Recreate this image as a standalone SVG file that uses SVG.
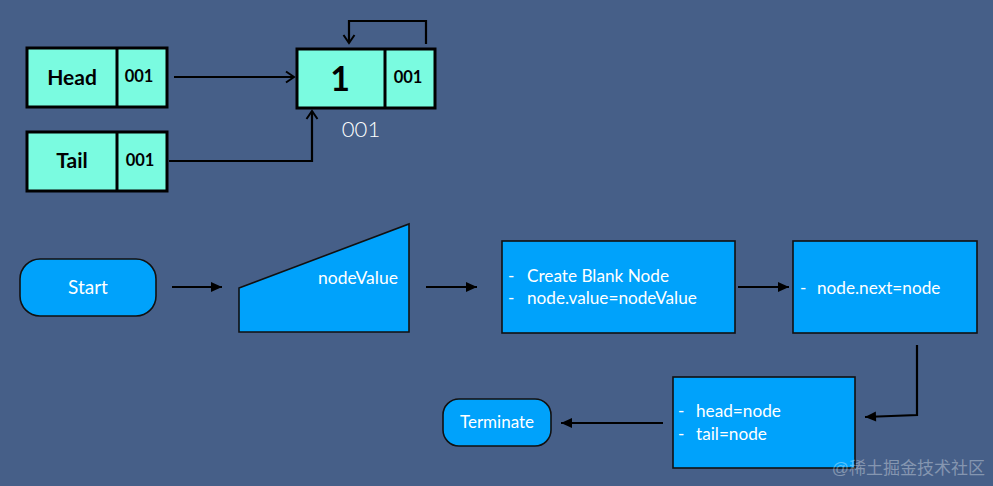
<svg xmlns="http://www.w3.org/2000/svg" width="993" height="486" viewBox="0 0 993 486">
<defs>
<style>
.bg{fill:#465f88}
.mem{fill:#7afbe0;stroke:#000;stroke-width:3}
.flow{fill:#00a2fb;stroke:#111;stroke-width:1.6}
.t{font-family:Lato,"Noto Sans",sans-serif;fill:#fff;font-size:17.2px}
.b{font-family:Lato,"Noto Sans",sans-serif;font-weight:bold;fill:#000}
.c{fill:none;stroke:#000;stroke-width:2.2}
</style>
<marker id="open" markerUnits="userSpaceOnUse" markerWidth="14" markerHeight="14" refX="11" refY="7" orient="auto">
<path d="M3,1.5 L11,7 L3,12.5" fill="none" stroke="#000" stroke-width="2"/>
</marker>
<marker id="fill" markerUnits="userSpaceOnUse" markerWidth="14" markerHeight="14" refX="12" refY="7" orient="auto">
<path d="M1,2 L12,7 L1,12 Z" fill="#000"/>
</marker>
</defs>
<rect class="bg" x="0" y="0" width="993" height="486"/>

<g id="head">
<rect class="mem" x="27" y="48" width="140" height="59"/>
<line x1="117" y1="48" x2="117" y2="107" stroke="#000" stroke-width="3"/>
<text class="b" x="72" y="85" font-size="21" text-anchor="middle">Head</text>
<text class="b" x="139" y="82" font-size="16.5" text-anchor="middle">001</text>
</g>
<g id="tail">
<rect class="mem" x="27" y="132" width="140" height="59"/>
<line x1="117" y1="132" x2="117" y2="191" stroke="#000" stroke-width="3"/>
<text class="b" x="72" y="168" font-size="21" text-anchor="middle">Tail</text>
<text class="b" x="140" y="166" font-size="16.5" text-anchor="middle">001</text>
</g>
<g id="node1">
<rect class="mem" x="297" y="49" width="138" height="59"/>
<line x1="385" y1="49" x2="385" y2="108" stroke="#000" stroke-width="3"/>
<text class="b" x="340" y="91" font-size="34" text-anchor="middle">1</text>
<text class="b" x="408" y="83" font-size="16.5" text-anchor="middle">001</text>
<text class="t" x="361" y="137" style="font-size:22px" font-weight="300" text-anchor="middle">001</text>
</g>

<g id="start">
<rect class="flow" x="20" y="259" width="136" height="57" rx="20"/>
<text class="t" x="88" y="294" style="font-size:19px" text-anchor="middle">Start</text>
</g>
<g id="input">
<path class="flow" d="M239,288 L409,224 L409,332 L239,332 Z"/>
<text class="t" x="358" y="284" style="font-size:17.5px" text-anchor="middle">nodeValue</text>
</g>
<g id="create">
<rect class="flow" x="502" y="241" width="233" height="92"/>
<text class="t" x="508" y="282">-</text>
<text class="t" x="527" y="282">Create Blank Node</text>
<text class="t" x="508" y="304">-</text>
<text class="t" x="527" y="304">node.value=nodeValue</text>
</g>
<g id="link">
<rect class="flow" x="793" y="241" width="184" height="92"/>
<text class="t" x="800" y="294">-</text>
<text class="t" x="817" y="294">node.next=node</text>
</g>
<g id="assign">
<rect class="flow" x="673" y="377" width="182" height="91"/>
<text class="t" x="678" y="417">-</text>
<text class="t" x="696" y="417">head=node</text>
<text class="t" x="678" y="440">-</text>
<text class="t" x="696" y="440">tail=node</text>
</g>
<g id="terminate">
<rect class="flow" x="443" y="399" width="108" height="47" rx="16"/>
<text class="t" x="497" y="428" style="font-size:17px" text-anchor="middle">Terminate</text>
</g>

<g id="connectors">
<path class="c" d="M174,77 L294,77" marker-end="url(#open)"/>
<path class="c" d="M169,161 L312,161 L312,111" marker-end="url(#open)"/>
<path class="c" d="M426,44 L426,21 L349,21 L349,43" marker-end="url(#open)"/>
<path class="c" d="M172,287 L222,287" marker-end="url(#fill)"/>
<path class="c" d="M426,287 L477,287" marker-end="url(#fill)"/>
<path class="c" d="M738,287 L789,287" marker-end="url(#fill)"/>
<path class="c" d="M917,345 L917,415 L865,417" marker-end="url(#fill)"/>
<path class="c" d="M663,423 L561,423" marker-end="url(#fill)"/>
</g>

<text x="985" y="474" font-size="17" text-anchor="end" font-family="'Liberation Sans','Noto Sans CJK SC',sans-serif" fill="#ffffff" fill-opacity="0.35">@稀土掘金技术社区</text>
</svg>
